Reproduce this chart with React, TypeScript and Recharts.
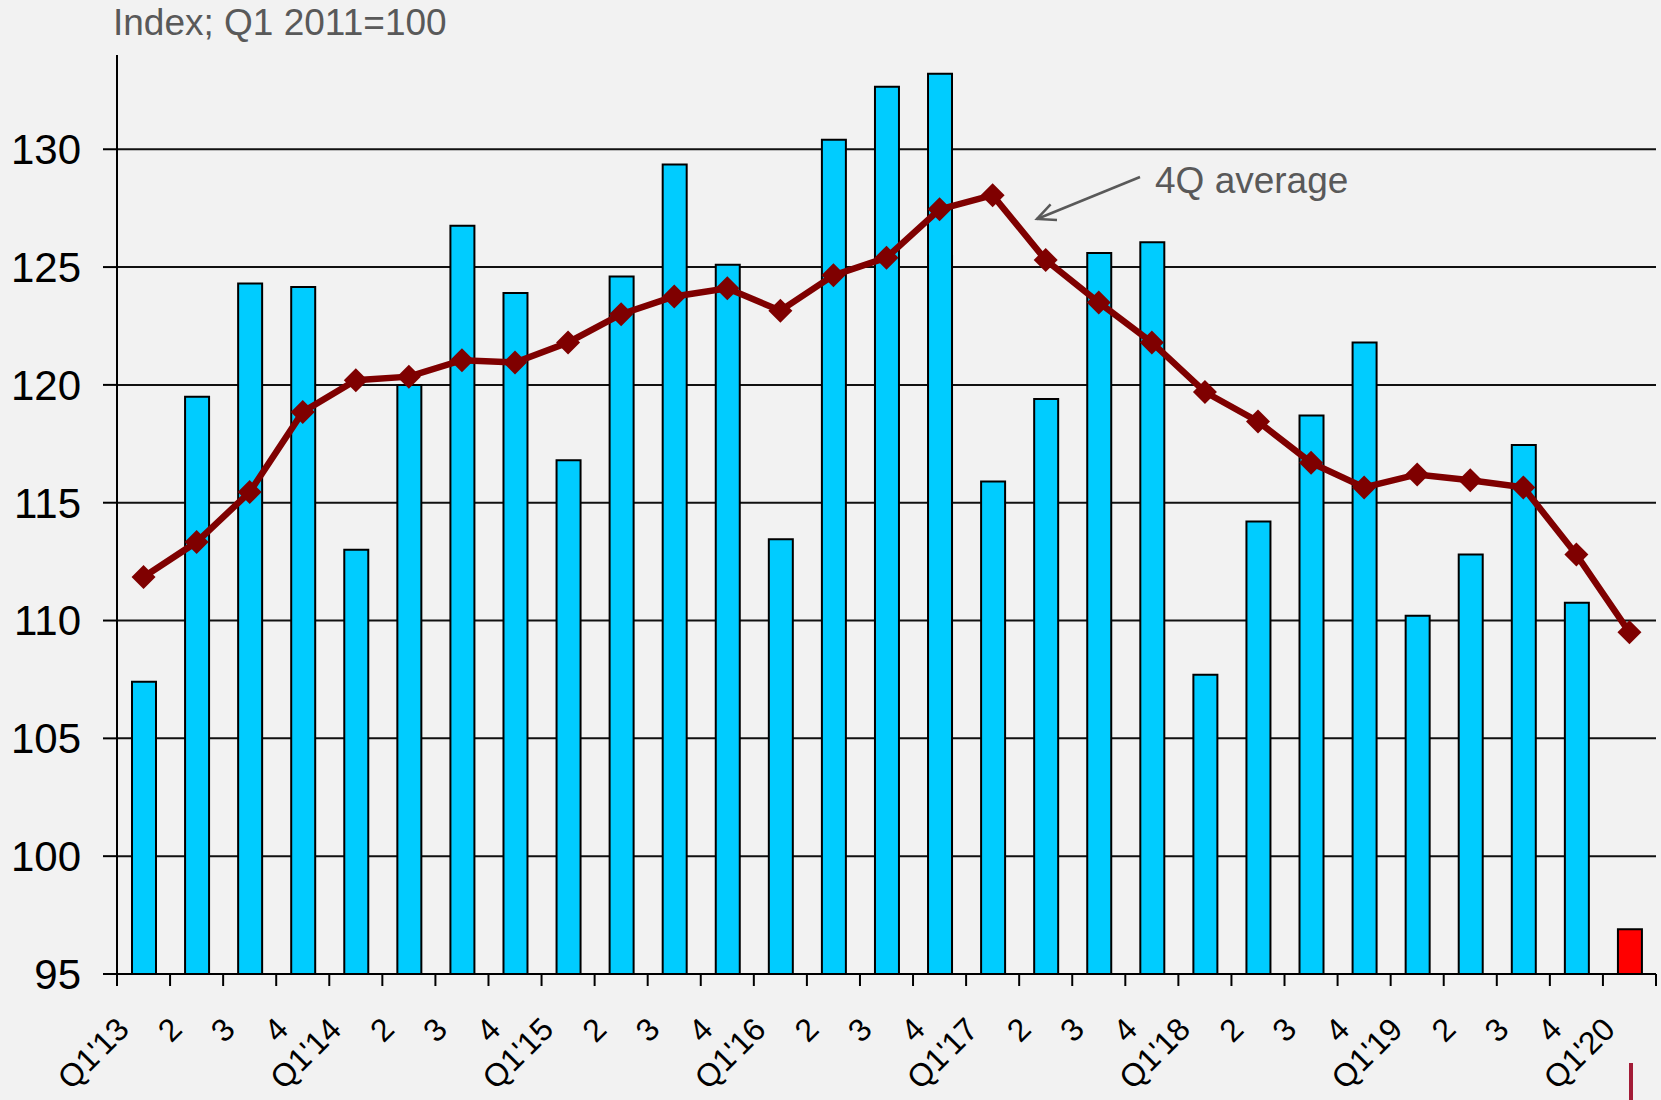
import { ComposedChart, Bar, Line, Cell, XAxis, YAxis, CartesianGrid } from 'recharts';

// Quarterly index (bars) with its 4-quarter moving average (line), Q1'13 – Q1'20.

const quarters = [
  '2013Q1', '2013Q2', '2013Q3', '2013Q4', '2014Q1', '2014Q2', '2014Q3', '2014Q4',
  '2015Q1', '2015Q2', '2015Q3', '2015Q4', '2016Q1', '2016Q2', '2016Q3', '2016Q4',
  '2017Q1', '2017Q2', '2017Q3', '2017Q4', '2018Q1', '2018Q2', '2018Q3', '2018Q4',
  '2019Q1', '2019Q2', '2019Q3', '2019Q4', '2020Q1',
];
const tickLabels = [
  "Q1'13", '2', '3', '4', "Q1'14", '2', '3', '4', "Q1'15", '2', '3', '4', "Q1'16", '2', '3', '4',
  "Q1'17", '2', '3', '4', "Q1'18", '2', '3', '4', "Q1'19", '2', '3', '4', "Q1'20",
];
const quarterly = [
  107.4, 119.5, 124.3, 124.15, 113.0, 120.0, 126.75, 123.9,
  116.8, 124.6, 129.35, 125.1, 113.45, 130.4, 132.65, 133.2,
  115.9, 119.4, 125.6, 126.05, 107.7, 114.2, 118.7, 121.8,
  110.2, 112.8, 117.45, 110.75, 96.9,
];
const avg4q = [
  111.85, 113.33, 115.45, 118.85, 120.2, 120.35, 121.05, 120.95,
  121.8, 123.0, 123.75, 124.1, 123.15, 124.65, 125.4, 127.45,
  128.05, 125.3, 123.5, 121.8, 119.7, 118.45, 116.7, 115.65,
  116.2, 115.95, 115.65, 112.8, 109.5,
];
const yTicks = [95, 100, 105, 110, 115, 120, 125, 130];
const Y_MIN = 95, Y_MAX = 134;

const W = 1661, H = 1100;
const FONT = "'Liberation Sans', Arial, sans-serif";
const C = { bg: '#f2f2f2', bar: '#00ccff', latest: '#ff0000', avg: '#7f0000', note: '#595959', mark: '#a31c37' };
const M = { top: 55, right: 5, left: 0, bottom: 0 };
const Y_W = 117, X_H = 126;
const BAND = (W - M.left - M.right - Y_W) / quarters.length;

const data = quarters.map((q, i) => ({ q, value: quarterly[i], avg: avg4q[i] }));

// grid only at the labelled ticks (no line at the axis top)
const gridRows = ({ offset }: { offset: { top: number; height: number } }) =>
  yTicks.map((t) => offset.top + ((Y_MAX - t) / (Y_MAX - Y_MIN)) * offset.height);

function Diamond({ cx, cy }: { cx?: number; cy?: number }) {
  if (cx == null || cy == null) return null;
  const r = 12;
  return <path d={`M${cx},${cy - r}L${cx + r},${cy}L${cx},${cy + r}L${cx - r},${cy}Z`} fill={C.avg} />;
}

// labels and tick marks sit on the category boundaries, bars between them
function QTick({ x, y, payload }: { x?: number; y?: number; payload?: { index: number } }) {
  const i = payload?.index ?? 0;
  const bx = (x ?? 0) - BAND / 2;
  const y0 = y ?? 0;
  const ax = bx - 2.5, ay = y0 + 41;
  return (
    <g>
      <line x1={bx} x2={bx} y1={y0} y2={y0 + 12} stroke="#000" strokeWidth={2} />
      {i === quarters.length - 1 && (
        <line x1={bx + BAND} x2={bx + BAND} y1={y0} y2={y0 + 12} stroke="#000" strokeWidth={2} />
      )}
      <text x={ax} y={ay} dy="0.72em" textAnchor="end" transform={`rotate(-45, ${ax}, ${ay})`}
        fontSize={32} fontFamily={FONT} fill="#000">{tickLabels[i]}</text>
    </g>
  );
}

export default function App() {
  return (
    <div style={{ position: 'absolute', left: 0, top: 0, width: W, height: H, background: C.bg, fontFamily: FONT, overflow: 'hidden' }}>
      <ComposedChart width={W} height={H} data={data} margin={M}>
        <CartesianGrid vertical={false} stroke="#111" strokeWidth={2} horizontalCoordinatesGenerator={gridRows} />
        <XAxis dataKey="q" height={X_H} interval={0} tickLine={false} tickSize={0} tickMargin={0}
          axisLine={{ stroke: '#000', strokeWidth: 2 }} tick={<QTick />} />
        <YAxis width={Y_W} domain={[Y_MIN, Y_MAX]} ticks={yTicks} allowDataOverflow
          tickSize={14} tickMargin={22} tickLine={{ stroke: '#000', strokeWidth: 2 }}
          axisLine={{ stroke: '#000', strokeWidth: 2 }}
          tick={{ fontSize: 42, fill: '#000', fontFamily: FONT }} />
        <Bar dataKey="value" barSize={24} stroke="#000" strokeWidth={2} isAnimationActive={false}>
          {data.map((d, i) => <Cell key={d.q} fill={i === data.length - 1 ? C.latest : C.bar} />)}
        </Bar>
        <Line dataKey="avg" type="linear" stroke={C.avg} strokeWidth={6.5} activeDot={false}
          dot={(p: { cx?: number; cy?: number; index?: number }) => <Diamond key={p.index} cx={p.cx} cy={p.cy} />}
          isAnimationActive={false} />
      </ComposedChart>
      <svg width={W} height={H} style={{ position: 'absolute', left: 0, top: 0, pointerEvents: 'none' }}>
        <text x={113} y={35} fontSize={37} fontFamily={FONT} fill={C.note}>Index; Q1 2011=100</text>
        <text x={1155} y={193} fontSize={37} fontFamily={FONT} fill={C.note}>4Q average</text>
        <line x1={1140} y1={177} x2={1037} y2={219} stroke={C.note} strokeWidth={2.5} />
        <polyline points="1050.6,204.3 1037,219 1057,220" fill="none" stroke={C.note} strokeWidth={2.5} />
        <line x1={1631} x2={1631} y1={1063} y2={1100} stroke={C.mark} strokeWidth={4} />
      </svg>
    </div>
  );
}
